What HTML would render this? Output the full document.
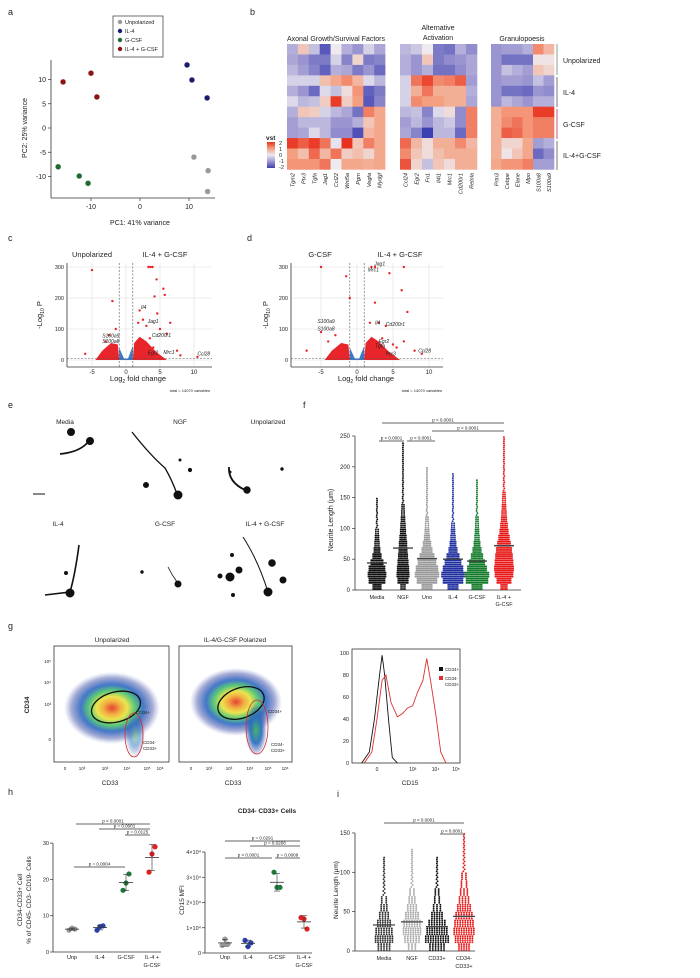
<!DOCTYPE html>
<html><head><meta charset="utf-8">
<style>
html,body{margin:0;padding:0;background:#fff;}
svg{display:block;font-family:"Liberation Sans",sans-serif;}
text{fill:#222;}
</style></head>
<body>
<svg id="fig" width="700" height="978" viewBox="0 0 700 978" xmlns="http://www.w3.org/2000/svg">
<defs>
<linearGradient id="vstg" x1="0" y1="0" x2="0" y2="1">
<stop offset="0" stop-color="#e8321f"/><stop offset="0.25" stop-color="#f4a080"/><stop offset="0.5" stop-color="#eeeaf0"/><stop offset="0.75" stop-color="#9a95d0"/><stop offset="1" stop-color="#3c3fb0"/>
</linearGradient>
<radialGradient id="flowg">
<stop offset="0" stop-color="#e02010"/><stop offset="0.18" stop-color="#f0a020"/><stop offset="0.32" stop-color="#e8e030"/><stop offset="0.48" stop-color="#40c060"/><stop offset="0.65" stop-color="#2060c0"/><stop offset="0.85" stop-color="#3040a0" stop-opacity="0.5"/><stop offset="1" stop-color="#6070c0" stop-opacity="0"/>
</radialGradient>
<radialGradient id="flowg2">
<stop offset="0" stop-color="#40b060"/><stop offset="0.5" stop-color="#2a70c0"/><stop offset="1" stop-color="#3040a0" stop-opacity="0"/>
</radialGradient>
</defs>

<g font-size="9">
<text x="8" y="15">a</text><text x="250" y="15">b</text>
<text x="8" y="241">c</text><text x="247" y="241">d</text>
<text x="8" y="408">e</text><text x="303" y="408">f</text>
<text x="8" y="629">g</text><text x="8" y="795">h</text><text x="337" y="797">i</text>
</g>

<g id="pca">
<rect x="113" y="16" width="50" height="41" fill="#fff" stroke="#333" stroke-width="0.7"/>
<g font-size="5.5">
<circle cx="120" cy="22" r="2.2" fill="#999"/><text x="125" y="24">Unpolarized</text>
<circle cx="120" cy="31" r="2.2" fill="#1c1c6e"/><text x="125" y="33">IL-4</text>
<circle cx="120" cy="40" r="2.2" fill="#1e6a32"/><text x="125" y="42">G-CSF</text>
<circle cx="120" cy="49" r="2.2" fill="#8c1414"/><text x="125" y="51">IL-4 + G-CSF</text>
</g>
<line x1="51" y1="60" x2="51" y2="198" stroke="#333" stroke-width="0.8"/>
<line x1="51" y1="198" x2="215" y2="198" stroke="#333" stroke-width="0.8"/>
<text x="27" y="128" font-size="7" transform="rotate(-90 27 128)" text-anchor="middle">PC2: 25% variance</text>
<text x="140" y="225" font-size="7" text-anchor="middle">PC1: 41% variance</text>
</g>

<g id="heat">
<text x="336" y="41" font-size="7" text-anchor="middle">Axonal Growth/Survival Factors</text>
<text x="438" y="30" font-size="7" text-anchor="middle">Alternative</text>
<text x="438" y="40" font-size="7" text-anchor="middle">Activation</text>
<text x="522" y="41" font-size="7" text-anchor="middle">Granulopoesis</text>
<text x="266" y="140" font-size="6.5" font-weight="bold">vst</text>
<rect x="267" y="142" width="8" height="26" fill="url(#vstg)"/>
<g font-size="5.5"><text x="279" y="145">2</text><text x="279" y="151">1</text><text x="279" y="157">0</text><text x="279" y="163">-1</text><text x="279" y="169">-2</text></g>
<g font-size="7">
<line x1="557" y1="44" x2="557" y2="75" stroke="#6a8a70" stroke-width="0.8"/><text x="563" y="63">Unpolarized</text>
<line x1="557" y1="77" x2="557" y2="107" stroke="#555" stroke-width="0.8"/><text x="563" y="95">IL-4</text>
<line x1="557" y1="109" x2="557" y2="139" stroke="#b03060" stroke-width="0.8"/><text x="563" y="127">G-CSF</text>
<line x1="557" y1="141" x2="557" y2="170" stroke="#555" stroke-width="0.8"/><text x="563" y="158">IL-4+G-CSF</text>
</g>
</g>

<g id="volc">
<g font-size="7.5">
<text x="92" y="257" text-anchor="middle">Unpolarized</text><text x="165" y="257" text-anchor="middle">IL-4 + G-CSF</text>
<text x="320" y="257" text-anchor="middle">G-CSF</text><text x="400" y="257" text-anchor="middle">IL-4 + G-CSF</text>
<text x="138" y="381" text-anchor="middle">Log<tspan font-size="5" dy="2">2</tspan><tspan dy="-2"> fold change</tspan></text>
<text x="366" y="381" text-anchor="middle">Log<tspan font-size="5" dy="2">2</tspan><tspan dy="-2"> fold change</tspan></text>
<text x="42" y="315" text-anchor="middle" transform="rotate(-90 42 315)">-Log<tspan font-size="5" dy="2">10</tspan><tspan dy="-2"> P</tspan></text>
<text x="268" y="315" text-anchor="middle" transform="rotate(-90 268 315)">-Log<tspan font-size="5" dy="2">10</tspan><tspan dy="-2"> P</tspan></text>
</g>
<g font-size="4"><text x="210" y="392" text-anchor="end">total = 14070 variables</text><text x="442" y="392" text-anchor="end">total = 14070 variables</text></g>
</g>

<g id="micro">
<g font-size="6.5" text-anchor="middle">
<text x="65" y="424">Media</text><text x="180" y="424">NGF</text><text x="268" y="424">Unpolarized</text>
<text x="58" y="526">IL-4</text><text x="165" y="526">G-CSF</text><text x="265" y="526">IL-4 + G-CSF</text>
</g>
<g fill="#111" stroke="#111">
<circle cx="71" cy="432" r="3.5"/>
<path d="M60 454 Q80 452 88 442" fill="none" stroke-width="1.8"/><circle cx="90" cy="441" r="3.5"/>
<line x1="33" y1="494" x2="45" y2="494" stroke-width="1"/>
<path d="M132 432 Q150 455 165 468 Q172 480 177 494" fill="none" stroke-width="1.3"/><circle cx="178" cy="495" r="4"/>
<circle cx="146" cy="485" r="2.5"/><circle cx="190" cy="470" r="1.6"/><circle cx="180" cy="460" r="1"/>
<path d="M229 467 Q228 482 245 490" fill="none" stroke-width="1.8"/><circle cx="247" cy="490" r="3.2"/>
<circle cx="282" cy="469" r="1.2"/><circle cx="230" cy="472" r="1"/>
<path d="M79 545 Q75 575 70 592 L45 595" fill="none" stroke-width="1.6"/><circle cx="70" cy="593" r="4"/><circle cx="66" cy="573" r="1.5"/>
<path d="M168 567 Q172 575 177 582" fill="none" stroke-width="0.8"/><circle cx="178" cy="584" r="3"/><circle cx="142" cy="572" r="1.2"/>
<path d="M243 537 Q258 560 268 592" fill="none" stroke-width="1"/><circle cx="268" cy="592" r="4"/>
<circle cx="230" cy="577" r="4"/><circle cx="239" cy="570" r="3"/><circle cx="272" cy="563" r="3.3"/><circle cx="283" cy="580" r="3"/><circle cx="233" cy="595" r="1.5"/><circle cx="220" cy="576" r="2"/><circle cx="232" cy="555" r="1.5"/>
</g>
</g>

<g id="pf">
<text x="333" y="520" font-size="7" text-anchor="middle" transform="rotate(-90 333 520)">Neurite Length (μm)</text>
</g>

<g id="flow">
<g font-size="6.5" text-anchor="middle">
<text x="112" y="642">Unpolarized</text><text x="235" y="642">IL-4/G-CSF Polarized</text>
<text x="110" y="785">CD33</text><text x="233" y="785">CD33</text><text x="410" y="785">CD15</text>
<text x="29" y="705" transform="rotate(-90 29 705)" font-weight="bold">CD34</text>
</g>
<rect x="54" y="646" width="115" height="116" fill="#fff" stroke="#333" stroke-width="0.8"/>
<rect x="179" y="646" width="113" height="116" fill="#fff" stroke="#333" stroke-width="0.8"/>
<ellipse cx="112" cy="708" rx="48" ry="36" fill="url(#flowg)" opacity="0.85"/>
<ellipse cx="135" cy="735" rx="10" ry="22" fill="url(#flowg2)" opacity="0.5"/>
<ellipse cx="116" cy="707" rx="25" ry="15" transform="rotate(-15 116 707)" fill="none" stroke="#111" stroke-width="1.3"/>
<ellipse cx="134" cy="735" rx="9" ry="22" fill="none" stroke="#d03030" stroke-width="0.8"/>
<ellipse cx="236" cy="702" rx="46" ry="34" fill="url(#flowg)" opacity="0.85"/>
<ellipse cx="256" cy="730" rx="11" ry="26" fill="url(#flowg2)" opacity="0.95"/>
<ellipse cx="241" cy="703" rx="24" ry="15" transform="rotate(-20 241 703)" fill="none" stroke="#111" stroke-width="1.3"/>
<ellipse cx="257" cy="727" rx="11" ry="27" fill="none" stroke="#d03030" stroke-width="0.8"/>
<g font-size="4.5">
<text x="136" y="714">CD34+</text><text x="143" y="744">CD34-</text><text x="143" y="750">CD33+</text>
<text x="268" y="713">CD34+</text><text x="271" y="746">CD34-</text><text x="271" y="752">CD33+</text>
</g>
<g font-size="4.5" text-anchor="end">
<text x="51" y="663">10⁵</text><text x="51" y="684">10⁴</text><text x="51" y="706">10³</text><text x="51" y="741">0</text>
</g>
<g font-size="4.5" text-anchor="middle">
<text x="65" y="770">0</text><text x="82" y="770">10³</text><text x="105" y="770">10³</text><text x="127" y="770">10⁴</text><text x="147" y="770">10⁵</text><text x="160" y="770">10⁶</text>
<text x="191" y="770">0</text><text x="209" y="770">10³</text><text x="229" y="770">10³</text><text x="250" y="770">10⁴</text><text x="268" y="770">10⁵</text><text x="285" y="770">10⁶</text>
</g>
</g>
<g id="hist"></g>

<g id="ph">
<text x="267" y="813" font-size="6.5" font-weight="bold" text-anchor="middle">CD34- CD33+ Cells</text>
<text x="22" y="900" font-size="6.5" text-anchor="middle" transform="rotate(-90 22 900)">CD34-CD33+ Cell</text>
<text x="31" y="900" font-size="6.5" text-anchor="middle" transform="rotate(-90 31 900)">% of CD45- CD3- CD19- Cells</text>
<text x="184" y="900" font-size="6.5" text-anchor="middle" transform="rotate(-90 184 900)">CD15 MFI</text>
<text x="338" y="890" font-size="6.5" text-anchor="middle" transform="rotate(-90 338 890)">Neurite Length (μm)</text>
</g>
</svg>

<script>
const NS='http://www.w3.org/2000/svg';
function mk(tag,attrs,parent){const e=document.createElementNS(NS,tag);for(const k in attrs)e.setAttribute(k,attrs[k]);(parent||document.getElementById('fig')).appendChild(e);return e;}

// ---------- Panel a data ----------
const pcaGroups=['Unpolarized','IL-4','G-CSF','IL-4 + G-CSF'];
const pcaColors=['#999999','#1c1c6e','#1e6a32','#8c1414'];
const pcaPC1=[[11,13.9,13.8],[9.6,10.6,13.7],[-16.7,-12.4,-10.6],[-15.7,-10,-8.8]];
const pcaPC2=[[-6,-8.8,-13.1],[13,9.9,6.2],[-8,-9.9,-11.4],[9.5,11.3,6.4]];
const pcaXTicks=[-10,0,10];
const pcaYTicks=[10,5,0,-5,-10];
const px=v=>140+v*4.9, py=v=>128-v*4.85;
{const g=document.getElementById('pca');
pcaXTicks.forEach(t=>{mk('line',{x1:px(t),x2:px(t),y1:198,y2:201,stroke:'#333','stroke-width':0.7},g);
const tx=mk('text',{x:px(t),y:209,'font-size':7,'text-anchor':'middle'},g);tx.textContent=t;

});
pcaYTicks.forEach(t=>{mk('line',{x1:48,x2:51,y1:py(t),y2:py(t),stroke:'#333','stroke-width':0.7},g);
const tx=mk('text',{x:46,y:py(t)+2.5,'font-size':7,'text-anchor':'end'},g);tx.textContent=t;

});
pcaPC1.forEach((arr,gi)=>arr.forEach((v,i)=>{const c=mk('circle',{cx:px(v),cy:py(pcaPC2[gi][i]),r:2.9,fill:pcaColors[gi],stroke:'#fff','stroke-width':0.4},g);

}));}

// ---------- Panel b data ----------
const hmGenes1=['Tgm2','Ptx3','Tgfa','Jag1','Ccl22','Wnt5a','Pgrn','Vegfa','Mydgf'];
const hmGenes2=['Ccl24','Egr2','Fn1','Il4i1','Mrc1','Cd200r1','Retnla'];
const hmGenes3=['Prtn3','Cebpe','Elane','Mpo','S100a8','S100a9'];
const hmVals1=[[-0.7,0.5,-0.5,-1.7,0,-0.7,-1,-0.3,-0.8],[-0.8,-1,-1.3,-1.3,-0.3,-1.2,0.3,-1.3,-1.2],[-0.6,-0.9,-1.2,-1.6,-0.7,-0.8,-1.3,-1,-1.5],[-0.3,-0.3,-0.3,0.6,0.9,1.2,0.7,-0.2,-0.6],[-0.7,-1,-1.5,-0.2,-0.5,0.2,1.1,-1.6,-1.3],[-0.2,-0.6,-0.5,0.4,1.9,0.4,1,-1.7,-1.2],[-0.7,0.5,0.4,-0.3,-0.6,-0.8,-1.4,1.3,0.9],[-0.9,-0.6,-0.6,-0.6,-1,-1,-0.7,0.5,0.9],[-0.9,-0.8,-0.2,-0.6,-1.1,-1.1,-1.8,0.7,0.9],[1.9,1.6,1.9,1.4,-0.1,2,0.5,1.3,0.9],[1,0.6,1.5,0.7,1.4,0.4,0.6,0.3,0.9],[1.1,1.1,1.1,1.4,0,0.9,0.9,0.8,0.9]];
const hmVals2=[[-0.6,-0.4,0,-1.3,-1.4,-0.7,-1.1],[-0.7,-1,0.5,-1.3,-1.1,-1,-0.8],[-0.7,-1,-0.7,-1.4,-1.4,-1.1,-0.8],[-0.3,1.4,1.8,1.2,1.3,1.6,-0.9],[-0.3,0.8,1.4,0.8,0.8,0.8,-0.7],[-0.3,1.2,1,1,0.8,0.8,-0.8],[-0.6,-0.5,-1.2,-0.2,0.2,-1.1,1.3],[-0.9,-0.6,-1,-0.6,-0.4,-1.1,1.3],[-0.8,-1.2,-2,-0.6,-0.6,-1.5,1.3],[1.5,0.7,0.2,0.8,0.8,1.2,0.7],[1.2,0.5,0.2,0.6,0.8,0.8,0.8],[1.7,0.3,-0.5,0.5,0.2,0.8,0.8]];
const hmVals3=[[-1,-0.9,-0.9,-0.7,1.2,0.7],[-1,-1.4,-1.4,-1.4,0.1,0.1],[-1,-0.5,-0.7,-0.9,0.5,0.3],[-1,-0.9,-0.9,-1,-0.5,-0.9],[-1,-1.4,-1.4,-1.5,-1,-1.1],[-1,-0.6,-0.8,-1,-0.7,-0.7],[0.8,1.1,1.1,1.1,1.9,1.9],[0.8,1.2,1.4,1.1,1.3,1.3],[0.8,1.6,1.5,1.1,1.3,1.3],[0.8,0.3,0.3,0.9,-0.9,-0.7],[0.8,0.1,0.5,0.9,-1.5,-1.1],[0.9,1.1,1.1,1.3,-0.9,-0.9]];
function hmColor(v){const stops=[[-2,[60,63,176]],[-1,[154,149,208]],[0,[238,234,240]],[1,[244,160,128]],[2,[232,50,31]]];
v=Math.max(-2,Math.min(2,v));for(let i=0;i<4;i++){const a=stops[i],b=stops[i+1];if(v<=b[0]){const t=(v-a[0]);return 'rgb('+a[1].map((c,k)=>Math.round(c+(b[1][k]-c)*t)).join(',')+')';}}return 'rgb(232,50,31)';}
{const g=document.getElementById('heat');
[[hmVals1,hmGenes1,287,10.9],[hmVals2,hmGenes2,400,11],[hmVals3,hmGenes3,491,10.5]].forEach(([vals,genes,x0,cw])=>{
vals.forEach((row,r)=>row.forEach((v,c)=>{const rc=mk('rect',{x:x0+c*cw,y:44+r*10.45,width:cw+0.3,height:10.75,fill:hmColor(v)},g);

}));
genes.forEach((gn,c)=>{const tx=mk('text',{x:0,y:0,'font-size':5.5,'font-style':'italic','text-anchor':'end',transform:`translate(${x0+c*cw+cw/2+2},173) rotate(-90)`},g);tx.textContent=gn;

});});}

// ---------- Panel c/d data ----------
const volcC_fc=[-5,-2,-1.5,3.3,3.6,3.9,4.5,5.5,5.7,4.2,4.6,2,3,5,6,7.5,8,-6,10.5,-3,-2.5,2.5,3.5,6.5,4,1.8];
const volcC_p=[290,190,100,300,300,300,260,230,210,205,150,160,110,100,85,30,15,20,10,60,80,130,70,120,40,120];
const volcD_fc=[-5,-1.5,-1,2,2.5,4.5,6.5,6.2,7,2.5,3,4,6.5,8,9,-7,-5,-3,5,4,-4,-2.5,1.8,3.5,5.5];
const volcD_p=[300,270,200,300,300,280,300,225,155,185,120,110,60,30,20,30,90,80,50,25,60,40,120,70,40];
const volcCLabels=[['Il4',2.2,165],['Jag1',3.2,120],['Cd200r1',3.8,75],['Egr2',3.2,18],['Mrc1',5.5,20],['Ccl28',10.5,15],['S100a9',-3.5,72],['S100a8',-3.5,55]];
const volcDLabels=[['Jag1',2.4,305],['Mrc1',1.5,285],['Il4',2.5,115],['Cd200r1',4,110],['Egr2',3,55],['Tgfa',2.5,40],['Ptx3',4,15],['Ccl28',8.5,25],['S100a9',-5.5,120],['S100a8',-5.5,95]];
const volcXTicks=[-5,0,5,10];
const volcYTicks=[0,100,200,300];
function drawVolcano(x0,x1,cx0,xs,fcs,ps,labels,tag){const g=document.getElementById('volc');
const X=v=>cx0+v*xs, Y=v=>360-v*0.31;
mk('rect',{x:x0,y:263,width:x1-x0,height:104,fill:'#fff'},g);
volcXTicks.forEach(t=>{mk('line',{x1:X(t),x2:X(t),y1:263,y2:367,stroke:'#e6e6e6','stroke-width':0.8},g);
const tx=mk('text',{x:X(t),y:374,'font-size':6,'text-anchor':'middle'},g);tx.textContent=t;

});
volcYTicks.forEach(t=>{mk('line',{x1:x0,x2:x1,y1:Y(t),y2:Y(t),stroke:'#e6e6e6','stroke-width':0.8},g);
const tx=mk('text',{x:x0-3,y:Y(t)+2,'font-size':5.5,'text-anchor':'end'},g);tx.textContent=t;

});
mk('line',{x1:x0,x2:x0,y1:263,y2:367,stroke:'#333','stroke-width':0.8},g);
mk('line',{x1:x0,x2:x1,y1:367,y2:367,stroke:'#333','stroke-width':0.8},g);
const redL=mk('path',{d:`M${X(-4.5)} ${Y(0)} L${X(-3.5)} ${Y(30)} L${X(-2.2)} ${Y(55)} L${X(-1.2)} ${Y(50)} L${X(-1)} ${Y(0)} Z`,fill:'#e8252a'},g);


const redR=mk('path',{d:`M${X(1)} ${Y(0)} L${X(1.2)} ${Y(55)} L${X(2)} ${Y(75)} L${X(3)} ${Y(60)} L${X(4.5)} ${Y(25)} L${X(6)} ${Y(0)} Z`,fill:'#e8252a'},g);


const blue=mk('path',{d:`M${X(-1)} ${Y(0)} L${X(-1)} ${Y(40)} L${X(-0.3)} ${Y(5)} L${X(0.3)} ${Y(5)} L${X(1)} ${Y(45)} L${X(1)} ${Y(0)} Z`,fill:'#3a7ac8'},g);


[-1,1].forEach(v=>mk('line',{x1:X(v),x2:X(v),y1:263,y2:367,stroke:'#555','stroke-width':0.6,'stroke-dasharray':'2,1.5'},g));
mk('line',{x1:x0,x2:x1,y1:Y(4),y2:Y(4),stroke:'#555','stroke-width':0.6,'stroke-dasharray':'2,1.5'},g);
fcs.forEach((f,i)=>{const c=mk('circle',{cx:X(f),cy:Y(ps[i]),r:1.2,fill:'#e8252a'},g);

});
labels.forEach(([n,f,p])=>{const tx=mk('text',{x:X(f),y:Y(p),'font-size':5,'font-style':'italic'},g);tx.textContent=n;

});}
drawVolcano(67,212,126,6.8,volcC_fc,volcC_p,volcCLabels,'volcano-c');
drawVolcano(291,443,357,7.2,volcD_fc,volcD_p,volcDLabels,'volcano-d');

// ---------- swarm helper ----------
function swarm(g,cx,counts,binSize,Y,color,tag,scale){counts.forEach((n,b)=>{if(!n)return;
const y0=Y(b*binSize), y1=Y((b+1)*binSize), half=n*scale;
const rows=Math.max(1,Math.round((y0-y1)/1.8));const per=Math.max(1,Math.round(n/rows));
for(let r=0;r<rows;r++){for(let k=0;k<per;k++){const xx=per===1?cx+((r%2)?half*0.5:-half*0.5):cx-half+2*half*k/(per-1);
const c=mk('circle',{cx:xx,cy:y0-(r+0.5)*(y0-y1)/rows,r:0.95,fill:color},g);

}}});}
function sigBar(g,x1,x2,y,label,fs){mk('line',{x1:x1,x2:x2,y1:y,y2:y,stroke:'#333','stroke-width':0.8},g);
const t=mk('text',{x:(x1+x2)/2,y:y-1.5,'font-size':fs||4.5,'text-anchor':'middle'},g);t.textContent=label;

}

// ---------- Panel f data ----------
const fCats=['Media','NGF','Uno','IL-4','G-CSF','IL-4 +'];
const fColors=['#111','#111','#9a9a9a','#2030a0','#137a2a','#e81818'];
const fMedians=[44,68,51,50,47,72];
const fCounts=[[20,40,45,40,30,20,14,10,8,6,4,3,2,2,1,0,0,0,0,0,0,0,0,0,0],[10,25,30,28,25,22,20,18,15,12,10,8,6,5,4,3,2,2,1,1,1,1,1,1,0],[25,50,60,55,45,35,25,18,12,9,7,5,4,3,2,2,1,1,1,1,0,0,0,0,0],[25,50,58,50,40,30,20,14,10,8,6,4,3,2,2,1,1,1,1,0,0,0,0,0,0],[25,55,60,48,38,28,20,14,10,8,6,5,4,3,2,1,1,1,0,0,0,0,0,0,0],[15,35,45,48,45,42,38,32,26,20,16,12,10,8,6,5,4,3,3,2,2,1,1,1,1]];
const fYTicks=[0,50,100,150,200,250];
{const g=document.getElementById('pf');const Y=v=>590-v*0.616;const xs=[377,403,427,453,477,504];
mk('line',{x1:355,x2:355,y1:436,y2:590,stroke:'#333','stroke-width':0.8},g);
mk('line',{x1:355,x2:521,y1:590,y2:590,stroke:'#333','stroke-width':0.8},g);
fYTicks.forEach(t=>{mk('line',{x1:352,x2:355,y1:Y(t),y2:Y(t),stroke:'#333','stroke-width':0.7},g);
const tx=mk('text',{x:350,y:Y(t)+2,'font-size':6,'text-anchor':'end'},g);tx.textContent=t;

});
fCats.forEach((c,i)=>{swarm(g,xs[i],fCounts[i],10,Y,fColors[i],'f-neurite-point',0.19);
mk('line',{x1:xs[i]-10,x2:xs[i]+10,y1:Y(fMedians[i]),y2:Y(fMedians[i]),stroke:'#444','stroke-width':1.4},g);
const tx=mk('text',{x:xs[i],y:599,'font-size':5.5,'text-anchor':'middle'},g);tx.textContent=c;

});
const t2=mk('text',{x:504,y:606,'font-size':5.5,'text-anchor':'middle'},g);t2.textContent='G-CSF';
sigBar(g,382,504,423,'p < 0.0001');sigBar(g,432,504,431,'p < 0.0001');sigBar(g,379,404,441,'p < 0.0001');sigBar(g,407,435,441,'p < 0.0001');}

// ---------- Panel g histogram data ----------
const histBins=['0','10³','10⁴','10⁵'];
const histBinVals=[0,1.4,2.3,3.1];
const histCD34X=[-0.6,-0.3,-0.1,0.1,0.2,0.3,0.45,0.6,0.8];
const histCD34Y=[0,10,40,80,98,80,40,5,0];
const histCD33X=[-0.5,-0.2,0,0.2,0.35,0.55,0.8,1.0,1.2,1.4,1.6,1.8,1.95,2.1,2.3,2.5,2.7];
const histCD33Y=[0,10,40,75,80,55,42,45,50,52,65,75,95,75,45,10,0];
const histYTicks=[0,20,40,60,80,100];
{const g=document.getElementById('hist');const X=v=>377+v*25.5, Y=v=>763-v*1.1;
mk('rect',{x:352,y:649,width:108,height:114,fill:'#fff',stroke:'#333','stroke-width':0.8},g);
histYTicks.forEach(t=>{const tx=mk('text',{x:349,y:Y(t)+2,'font-size':5.5,'text-anchor':'end'},g);tx.textContent=t;

});
histBins.forEach((b,i)=>{const tx=mk('text',{x:X(histBinVals[i]),y:771,'font-size':5,'text-anchor':'middle'},g);tx.textContent=b;

});
const l1=mk('polyline',{points:histCD34X.map((v,i)=>X(v)+','+Y(histCD34Y[i])).join(' '),fill:'none',stroke:'#111','stroke-width':0.9},g);


const l2=mk('polyline',{points:histCD33X.map((v,i)=>X(v)+','+Y(histCD33Y[i])).join(' '),fill:'none',stroke:'#e03030','stroke-width':0.9},g);


mk('rect',{x:439,y:667,width:4,height:4,fill:'#111'},g);mk('rect',{x:439,y:676,width:4,height:4,fill:'#e03030'},g);
const a=mk('text',{x:445,y:671,'font-size':4.5},g);a.textContent='CD34+';
const b=mk('text',{x:445,y:680,'font-size':4.5},g);b.textContent='CD34-';
const c=mk('text',{x:445,y:686,'font-size':4.5},g);c.textContent='CD33+';}

// ---------- Panel h data ----------
const hCats=['Unp','IL-4','G-CSF','IL-4 +'];
const hColors=['#999','#2a40b0','#1e7a3a','#e02020'];
const h1Vals=[[6,6.6,6.3],[6,7,7.2],[17,19,21.5],[22,27,29]];
const h1YTicks=[0,10,20,30];
const h2Vals=[[0.3,0.55,0.35],[0.5,0.25,0.4],[3.2,2.6,2.6],[1.4,1.35,0.95]];
const h2YTicks=[0,1,2,3,4];
{const g=document.getElementById('ph');
function dotPlot(ax,axEnd,Y,vals,xs,ticks,tickFmt,tag){mk('line',{x1:ax,x2:ax,y1:Y(ticks[ticks.length-1]),y2:Y(0),stroke:'#333','stroke-width':0.8},g);
mk('line',{x1:ax,x2:axEnd,y1:Y(0),y2:Y(0),stroke:'#333','stroke-width':0.8},g);
ticks.forEach(t=>{mk('line',{x1:ax-3,x2:ax,y1:Y(t),y2:Y(t),stroke:'#333','stroke-width':0.7},g);
const tx=mk('text',{x:ax-4,y:Y(t)+2,'font-size':5.5,'text-anchor':'end'},g);tx.textContent=tickFmt(t);

});
vals.forEach((arr,i)=>{const m=arr.reduce((a,b)=>a+b,0)/arr.length;
arr.forEach((v,k)=>{const c=mk('circle',{cx:xs[i]+(k-1)*3,cy:Y(v),r:2.6,fill:hColors[i]},g);

});
mk('line',{x1:xs[i]-7,x2:xs[i]+7,y1:Y(m),y2:Y(m),stroke:'#333','stroke-width':0.8},g);
const sd=Math.sqrt(arr.reduce((a,b)=>a+(b-m)*(b-m),0)/(arr.length-1));
mk('line',{x1:xs[i],x2:xs[i],y1:Y(m-sd),y2:Y(m+sd),stroke:'#333','stroke-width':0.6},g);
mk('line',{x1:xs[i]-3,x2:xs[i]+3,y1:Y(m-sd),y2:Y(m-sd),stroke:'#333','stroke-width':0.6},g);
mk('line',{x1:xs[i]-3,x2:xs[i]+3,y1:Y(m+sd),y2:Y(m+sd),stroke:'#333','stroke-width':0.6},g);
const tx=mk('text',{x:xs[i],y:959,'font-size':5.5,'text-anchor':'middle'},g);tx.textContent=hCats[i];


if(i===3){const t2=mk('text',{x:xs[i],y:967,'font-size':5.5,'text-anchor':'middle'},g);t2.textContent='G-CSF';}});}
dotPlot(53,161,v=>952-v*3.63,h1Vals,[72,100,126,152],h1YTicks,t=>t,'h1');
sigBar(g,76,150,824,'p < 0.0001');sigBar(g,99,150,829,'p = 0.0001');sigBar(g,125,150,835,'p = 0.0125');sigBar(g,74,125,867,'p = 0.0004');
dotPlot(205,312,v=>953-v*25.25,h2Vals,[225,248,277,304],h2YTicks,t=>t?t+'×10⁴':'0','h2');
sigBar(g,225,300,841,'p = 0.0291');sigBar(g,250,300,846,'p = 0.0268');sigBar(g,225,272,858,'p < 0.0001');sigBar(g,275,300,858,'p = 0.0009');}

// ---------- Panel i data ----------
const iCats=['Media','NGF','CD33+','CD34-'];
const iColors=['#333','#aaa','#111','#e81818'];
const iMedians=[33,37,31,44];
const iCounts=[[20,30,28,22,15,10,8,5,3,3,2,1,0,0,0],[12,25,30,28,22,15,10,7,5,3,2,2,1,0,0],[25,40,35,28,18,12,8,6,4,3,2,1,0,0,0],[18,30,35,32,28,22,16,12,9,7,5,4,3,2,2]];
const iYTicks=[0,50,100,150];
{const g=document.getElementById('ph');const Y=v=>951-v*0.787;const xs=[384,412,437,464];
mk('line',{x1:355,x2:355,y1:833,y2:951,stroke:'#333','stroke-width':0.8},g);
mk('line',{x1:355,x2:475,y1:951,y2:951,stroke:'#333','stroke-width':0.8},g);
iYTicks.forEach(t=>{mk('line',{x1:352,x2:355,y1:Y(t),y2:Y(t),stroke:'#333','stroke-width':0.7},g);
const tx=mk('text',{x:350,y:Y(t)+2,'font-size':6,'text-anchor':'end'},g);tx.textContent=t;

});
iCats.forEach((c,i)=>{swarm(g,xs[i],iCounts[i],10,Y,iColors[i],'i-neurite-point',0.28);
mk('line',{x1:xs[i]-11,x2:xs[i]+11,y1:Y(iMedians[i]),y2:Y(iMedians[i]),stroke:'#444','stroke-width':1.2},g);
const tx=mk('text',{x:xs[i],y:960,'font-size':5.5,'text-anchor':'middle'},g);tx.textContent=c;

});
const t2=mk('text',{x:464,y:968,'font-size':5.5,'text-anchor':'middle'},g);t2.textContent='CD33+';
sigBar(g,384,464,823,'p < 0.0001');sigBar(g,440,464,834,'p < 0.0001');}
</script>
</body></html>
